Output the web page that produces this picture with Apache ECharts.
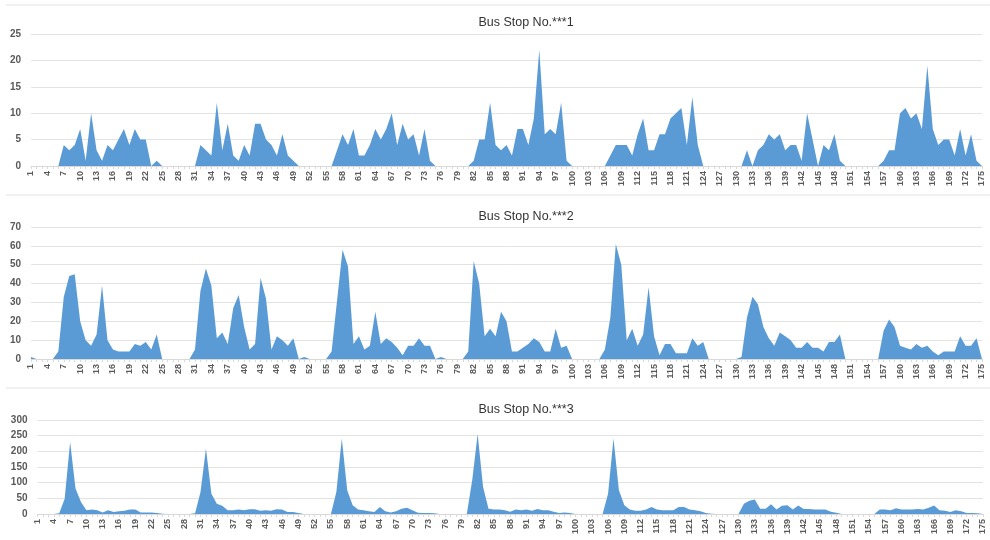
<!DOCTYPE html>
<html>
<head>
<meta charset="utf-8">
<script src="https://cdn.jsdelivr.net/npm/echarts@6/dist/echarts.min.js"></script>
<style>
  html, body { margin: 0; padding: 0; background: #fff; }
  #chart { width: 990px; height: 540px; }
</style>
</head>
<body>
<div id="chart"></div>
<script>
// categories 1..175
var categories = [];
for (var c = 1; c <= 175; c++) categories.push(String(c));

var titles = ["Bus Stop No.***1", "Bus Stop No.***2", "Bus Stop No.***3"];

var stop1 = [
  0,0,0,0,0,0,4,3,4,7, 1,10,3,1,4,3,5,7,4,7, 5,5,0,1,0,0,0,0,0,0,
  0,4,3,2,12,3,8,2,1,4, 2,8,8,5,4,2,6,2,1,0, 0,0,0,0,0,0,3,6,4,7,
  2,2,4,7,5,7,10,4,8,5, 6,2,7,1,0,0,0,0,0,0, 0,1,5,5,12,4,3,4,2,7,
  7,4,9,22,6,7,6,12,1,0, 0,0,0,0,0,0,2,4,4,4, 2,6,9,3,3,6,6,9,10,11,
  4,13,4,0,0,0,0,0,0,0, 0,3,0,3,4,6,5,6,3,4, 4,1,10,5,0,4,3,6,1,0,
  0,0,0,0,0,0,1,3,3,10, 11,9,10,7,19,7,4,5,5,2, 7,2,6,1,0
];

var stop2 = [
  1,0,0,0,0,4,33,44,45,20, 10,7,13,39,10,5,4,4,4,8, 7,9,5,13,0,0,0,0,0,0,
  5,36,48,39,11,14,8,27,34,17, 5,8,43,32,5,12,10,7,11,0, 1,0,0,0,0,4,31,58,49,8,
  12,5,7,25,8,11,9,6,2,7, 7,11,7,7,0,1,0,0,0,0, 4,52,40,12,16,12,25,20,4,4,
  6,8,11,9,4,4,16,6,7,0, 0,0,0,0,0,5,22,61,50,10, 16,7,13,38,12,2,8,8,3,3,
  3,11,7,9,0,0,0,0,0,0, 1,22,33,29,17,11,7,14,12,10, 6,6,9,6,6,4,9,9,13,0,
  0,0,0,0,0,0,15,21,17,7, 6,5,8,6,7,4,2,4,4,4, 12,7,7,11,0
];

var stop3 = [
  0,0,0,0,2,49,230,81,38,12, 14,12,5,12,6,9,10,14,14,5, 5,5,3,1,0,0,0,0,0,2,
  70,209,65,33,26,12,12,14,12,15, 15,10,12,10,15,14,6,6,3,0, 0,0,0,0,0,70,241,76,28,14,
  12,9,6,22,9,5,9,17,20,12, 4,3,3,2,0,0,0,0,0,0, 108,255,86,17,14,14,12,7,14,12,
  14,10,16,12,12,7,3,5,3,0, 0,0,0,0,0,65,241,76,28,14, 10,10,14,22,14,12,12,12,22,22,
  14,12,9,3,1,0,0,0,0,0, 33,42,46,17,17,31,14,26,28,14, 27,16,16,14,14,14,7,4,0,0,
  0,0,0,0,0,14,14,12,18,14, 14,14,16,14,20,27,12,10,6,12, 9,3,3,2,0
];

var seriesData = [stop1, stop2, stop3];
var yMax = [25, 70, 300];
var yInterval = [5, 10, 50];

var grids = [
  { left: 31, right: 8, top: 34, height: 132 },
  { left: 31, right: 8, top: 227, height: 132 },
  { left: 37.5, right: 7, top: 420, height: 94 }
];

var titleTops = [11, 205, 398];

var chart = echarts.init(document.getElementById('chart'));

var option = {
  backgroundColor: '#fff',
  animation: false,
  title: titles.map(function (t, i) {
    return {
      text: t,
      left: 521,
      top: titleTops[i],
      textAlign: 'center',
      textStyle: {
        color: '#333',
        fontSize: 12.5,
        fontWeight: 'normal',
        fontFamily: 'Liberation Sans'
      }
    };
  }),
  grid: grids,
  xAxis: seriesData.map(function (d, i) {
    return {
      type: 'category',
      gridIndex: i,
      boundaryGap: false,
      data: categories,
      axisLine: { show: true, lineStyle: { color: '#d9d9d9' } },
      axisTick: { show: true, interval: 0, length: 3, lineStyle: { color: '#d9d9d9' } },
      axisLabel: {
        interval: 2,
        rotate: 90,
        color: '#595959',
        fontSize: 9,
        fontWeight: 'bold',
        fontFamily: 'Liberation Sans',
        margin: 5
      }
    };
  }),
  yAxis: seriesData.map(function (d, i) {
    return {
      type: 'value',
      gridIndex: i,
      min: 0,
      max: yMax[i],
      interval: yInterval[i],
      axisLine: { show: false },
      axisTick: { show: false },
      splitLine: { lineStyle: { color: '#e3e3e3' } },
      axisLabel: {
        color: '#595959',
        fontSize: 10,
        fontWeight: 'bold',
        fontFamily: 'Liberation Sans',
        margin: 10
      }
    };
  }),
  series: seriesData.map(function (d, i) {
    return {
      name: titles[i],
      type: 'line',
      xAxisIndex: i,
      yAxisIndex: i,
      data: d,
      symbol: 'none',
      lineStyle: { width: 0 },
      areaStyle: { color: '#5b9bd5', opacity: 1 },
      itemStyle: { color: '#5b9bd5' }
    };
  }),
  graphic: [
    { type: 'line', shape: { x1: 6, y1: 5, x2: 990, y2: 5 }, style: { stroke: '#e3e3e3', lineWidth: 1 } },
    { type: 'line', shape: { x1: 6, y1: 195, x2: 990, y2: 195 }, style: { stroke: '#e3e3e3', lineWidth: 1 } },
    { type: 'line', shape: { x1: 6, y1: 388, x2: 990, y2: 388 }, style: { stroke: '#e3e3e3', lineWidth: 1 } }
  ]
};

chart.setOption(option);
</script>
</body>
</html>
